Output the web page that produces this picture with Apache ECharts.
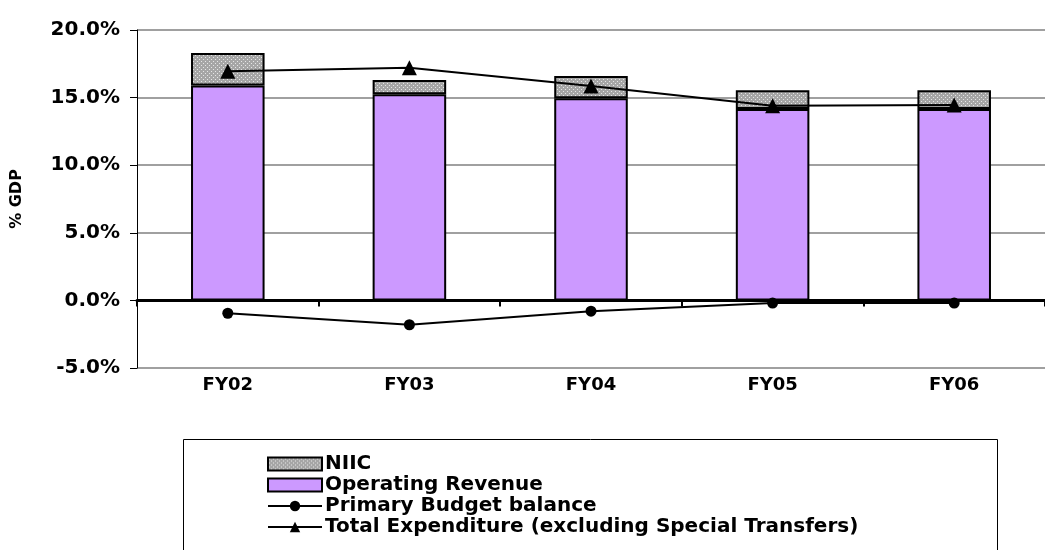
<!DOCTYPE html>
<html>
<head>
<meta charset="utf-8">
<script src="https://cdn.jsdelivr.net/npm/echarts@6/dist/echarts.min.js"></script>
<style>
  html, body { margin: 0; padding: 0; background: #fff; }
  #main { width: 1045px; height: 550px; }
</style>
</head>
<body>
<div id="main"></div>
<script>
// values (% of GDP)
var categories       = ['FY02', 'FY03', 'FY04', 'FY05', 'FY06'];
var operatingRevenue = [15.9, 15.25, 14.95, 14.15, 14.15];
var niic             = [2.4, 1.05, 1.65, 1.4, 1.4];
var primaryBalance   = [-0.95, -1.8, -0.8, -0.2, -0.2];
var totalExpenditure = [16.95, 17.2, 15.85, 14.4, 14.45];
var yTicks           = { min: -5, max: 20, step: 5 };

// grey dotted fill used by Excel for NIIC
function dotPattern(){
    var c = document.createElement('canvas');
    c.width = 4; c.height = 4;
    var ctx = c.getContext('2d');
    ctx.fillStyle = '#a6a6a6';
    ctx.fillRect(0, 0, 4, 4);
    ctx.fillStyle = '#e6e6e6';
    ctx.fillRect(1, 1, 1, 1);
    ctx.fillRect(3, 3, 1, 1);
    return c;
}

var font = 'DejaVu Sans';
var chart = echarts.init(document.getElementById('main'));

var option = {
    backgroundColor: '#fff',
    animation: false,
    textStyle: { fontFamily: font, fontWeight: 'bold', color: '#000' },
    grid: { left: 137, top: 30, width: 923, height: 338 },
    graphic: [{
        type: 'rect',
        left: 183, top: 439,
        shape: { width: 814, height: 140 },
        style: { fill: '#fff', stroke: '#000', lineWidth: 1 },
        z: -1
    }],
    legend: {
        orient: 'vertical',
        left: 262, top: 449,
        itemWidth: 54, itemHeight: 13,
        itemGap: 1,
        data: [
            { name: 'NIIC', icon: 'rect' },
            { name: 'Operating Revenue', icon: 'rect' },
            'Primary Budget balance',
            'Total Expenditure (excluding Special Transfers)'
        ],
        textStyle: { fontFamily: font, fontWeight: 'bold', fontSize: 20, color: '#000', lineHeight: 20, padding: [0, 0, 0, -2] }
    },
    xAxis: [{
        type: 'category',
        data: categories,
        position: 'bottom',
        axisLine: { show: false, onZero: false },
        axisTick: { show: false },
        axisLabel: { fontFamily: font, fontWeight: 'bold', fontSize: 18, color: '#000', margin: 8 }
    }, {
        type: 'category',
        data: categories,
        position: 'bottom',
        axisLine: { show: true, onZero: true, lineStyle: { color: '#000', width: 3 } },
        axisTick: { show: true, length: 6, lineStyle: { color: '#000', width: 2 } },
        axisLabel: { show: false }
    }],
    yAxis: {
        type: 'value',
        min: yTicks.min, max: yTicks.max, interval: yTicks.step,
        name: '% GDP',
        nameLocation: 'middle',
        nameRotate: 90,
        nameGap: 112,
        nameTextStyle: { fontFamily: font, fontWeight: 'bold', fontSize: 16, color: '#000' },
        axisLine: { show: true, lineStyle: { color: '#000', width: 1 } },
        axisTick: { show: true, length: 7, lineStyle: { color: '#000' } },
        axisLabel: {
            fontFamily: font, fontWeight: 'bold', fontSize: 20, color: '#000', margin: 17,
            formatter: function(v){ return v.toFixed(1) + '%'; }
        },
        splitLine: { show: true, lineStyle: { color: '#808080', width: 1.5 } }
    },
    series: [{
        name: 'Operating Revenue',
        type: 'bar',
        stack: 'rev',
        barWidth: '40.5%',
        data: operatingRevenue,
        itemStyle: { color: '#cc99ff', borderColor: '#000', borderWidth: 2 }
    }, {
        name: 'NIIC',
        type: 'bar',
        stack: 'rev',
        data: niic,
        itemStyle: { color: { image: dotPattern(), repeat: 'repeat' }, borderColor: '#000', borderWidth: 2 }
    }, {
        name: 'Primary Budget balance',
        type: 'line',
        data: primaryBalance,
        symbol: 'circle',
        symbolSize: 11,
        itemStyle: { color: '#000' },
        lineStyle: { color: '#000', width: 2 },
        z: 5
    }, {
        name: 'Total Expenditure (excluding Special Transfers)',
        type: 'line',
        data: totalExpenditure,
        symbol: 'triangle',
        symbolSize: 15,
        itemStyle: { color: '#000' },
        lineStyle: { color: '#000', width: 2 },
        z: 5
    }]
};

chart.setOption(option);
</script>
</body>
</html>
